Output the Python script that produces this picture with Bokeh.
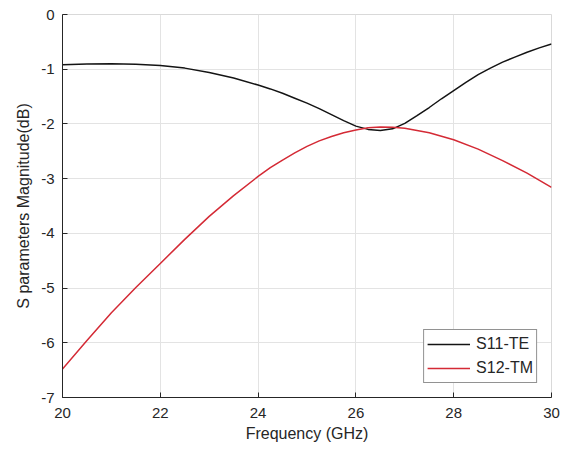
from bokeh.plotting import figure
from bokeh.models import Range1d, FixedTicker, Legend, LegendItem
from bokeh.embed import file_html
from bokeh.resources import INLINE

freq_te = [20, 20.5, 21, 21.5, 22, 22.5, 23, 23.5, 24, 24.25, 24.5, 24.75, 25, 25.25, 25.5, 25.75,
           26, 26.25, 26.5, 26.75, 27, 27.25, 27.5, 27.75, 28, 28.25, 28.5, 28.75, 29, 29.25, 29.5, 29.75, 30]
s11_te = [-0.92, -0.905, -0.90, -0.91, -0.93, -0.98, -1.06, -1.16, -1.29, -1.36, -1.44, -1.53, -1.62, -1.72,
          -1.83, -1.94, -2.04, -2.10, -2.12, -2.09, -1.99, -1.85, -1.70, -1.54, -1.39, -1.24, -1.10, -0.98,
          -0.87, -0.78, -0.69, -0.61, -0.54]

freq_tm = [20, 20.5, 21, 21.5, 22, 22.5, 23, 23.5, 24, 24.25, 24.5, 24.75, 25, 25.25, 25.5, 25.75,
           26, 26.25, 26.5, 26.75, 27, 27.5, 28, 28.5, 29, 29.5, 30]
s12_tm = [-6.48, -5.96, -5.45, -4.99, -4.55, -4.11, -3.69, -3.31, -2.96, -2.80, -2.66, -2.53, -2.41, -2.31,
          -2.23, -2.16, -2.11, -2.07, -2.055, -2.06, -2.08, -2.16, -2.29, -2.46, -2.67, -2.90, -3.16]

x_ticks = [20, 22, 24, 26, 28, 30]
y_ticks = [-7, -6, -5, -4, -3, -2, -1, 0]
y_tick_labels = ["-7", "-6", "-5", "-4", "-3", "-2", "-1", "0"]

FONT = "Liberation Sans"
TXT = "#262626"

p = figure(width=570, height=451, output_backend="svg", toolbar_location=None,
           x_range=Range1d(20, 30), y_range=Range1d(-7, 0),
           min_border_left=62, min_border_right=19, min_border_top=14, min_border_bottom=54)

p.outline_line_color = "#d9d9d9"
p.background_fill_color = "white"
p.border_fill_color = "white"

for ax in (p.xaxis[0], p.yaxis[0]):
    ax.axis_line_color = TXT
    ax.axis_line_width = 1
    ax.major_tick_line_color = TXT
    ax.major_tick_in = 5
    ax.major_tick_out = 0
    ax.minor_tick_line_color = None
    ax.major_label_text_font = FONT
    ax.major_label_text_font_size = "15px"
    ax.major_label_text_color = TXT
    ax.axis_label_text_font = FONT
    ax.axis_label_text_font_size = "16px"
    ax.axis_label_text_font_style = "normal"
    ax.axis_label_text_color = TXT

p.xaxis[0].ticker = FixedTicker(ticks=x_ticks)
p.yaxis[0].ticker = FixedTicker(ticks=y_ticks)
p.yaxis[0].major_label_overrides = dict(zip(y_ticks, y_tick_labels))
p.xaxis[0].axis_label = "Frequency (GHz)"
p.yaxis[0].axis_label = "S parameters Magnitude(dB)"
p.xaxis[0].major_label_standoff = 10
p.yaxis[0].major_label_standoff = 8
p.xaxis[0].axis_label_standoff = 4
p.yaxis[0].axis_label_standoff = 6

p.xgrid[0].ticker = FixedTicker(ticks=x_ticks)
p.ygrid[0].ticker = FixedTicker(ticks=y_ticks)
p.xgrid.grid_line_color = "#e3e3e3"
p.ygrid.grid_line_color = "#e3e3e3"

r1 = p.line(freq_te, s11_te, line_color="#141414", line_width=1.5)
r2 = p.line(freq_tm, s12_tm, line_color="#d42a35", line_width=1.5)

legend = Legend(items=[LegendItem(label="S11-TE", renderers=[r1]),
                       LegendItem(label="S12-TM", renderers=[r2])],
                location="bottom_right")
legend.margin = 14
legend.padding = 3
legend.spacing = 2
legend.glyph_width = 43
legend.glyph_height = 22
legend.label_standoff = 6
legend.label_text_font = FONT
legend.label_text_font_size = "16px"
legend.label_text_color = TXT
legend.border_line_color = "#262626"
legend.border_line_width = 1
legend.background_fill_alpha = 1
p.add_layout(legend, "center")

open("out.html", "w").write(file_html(p, INLINE))
